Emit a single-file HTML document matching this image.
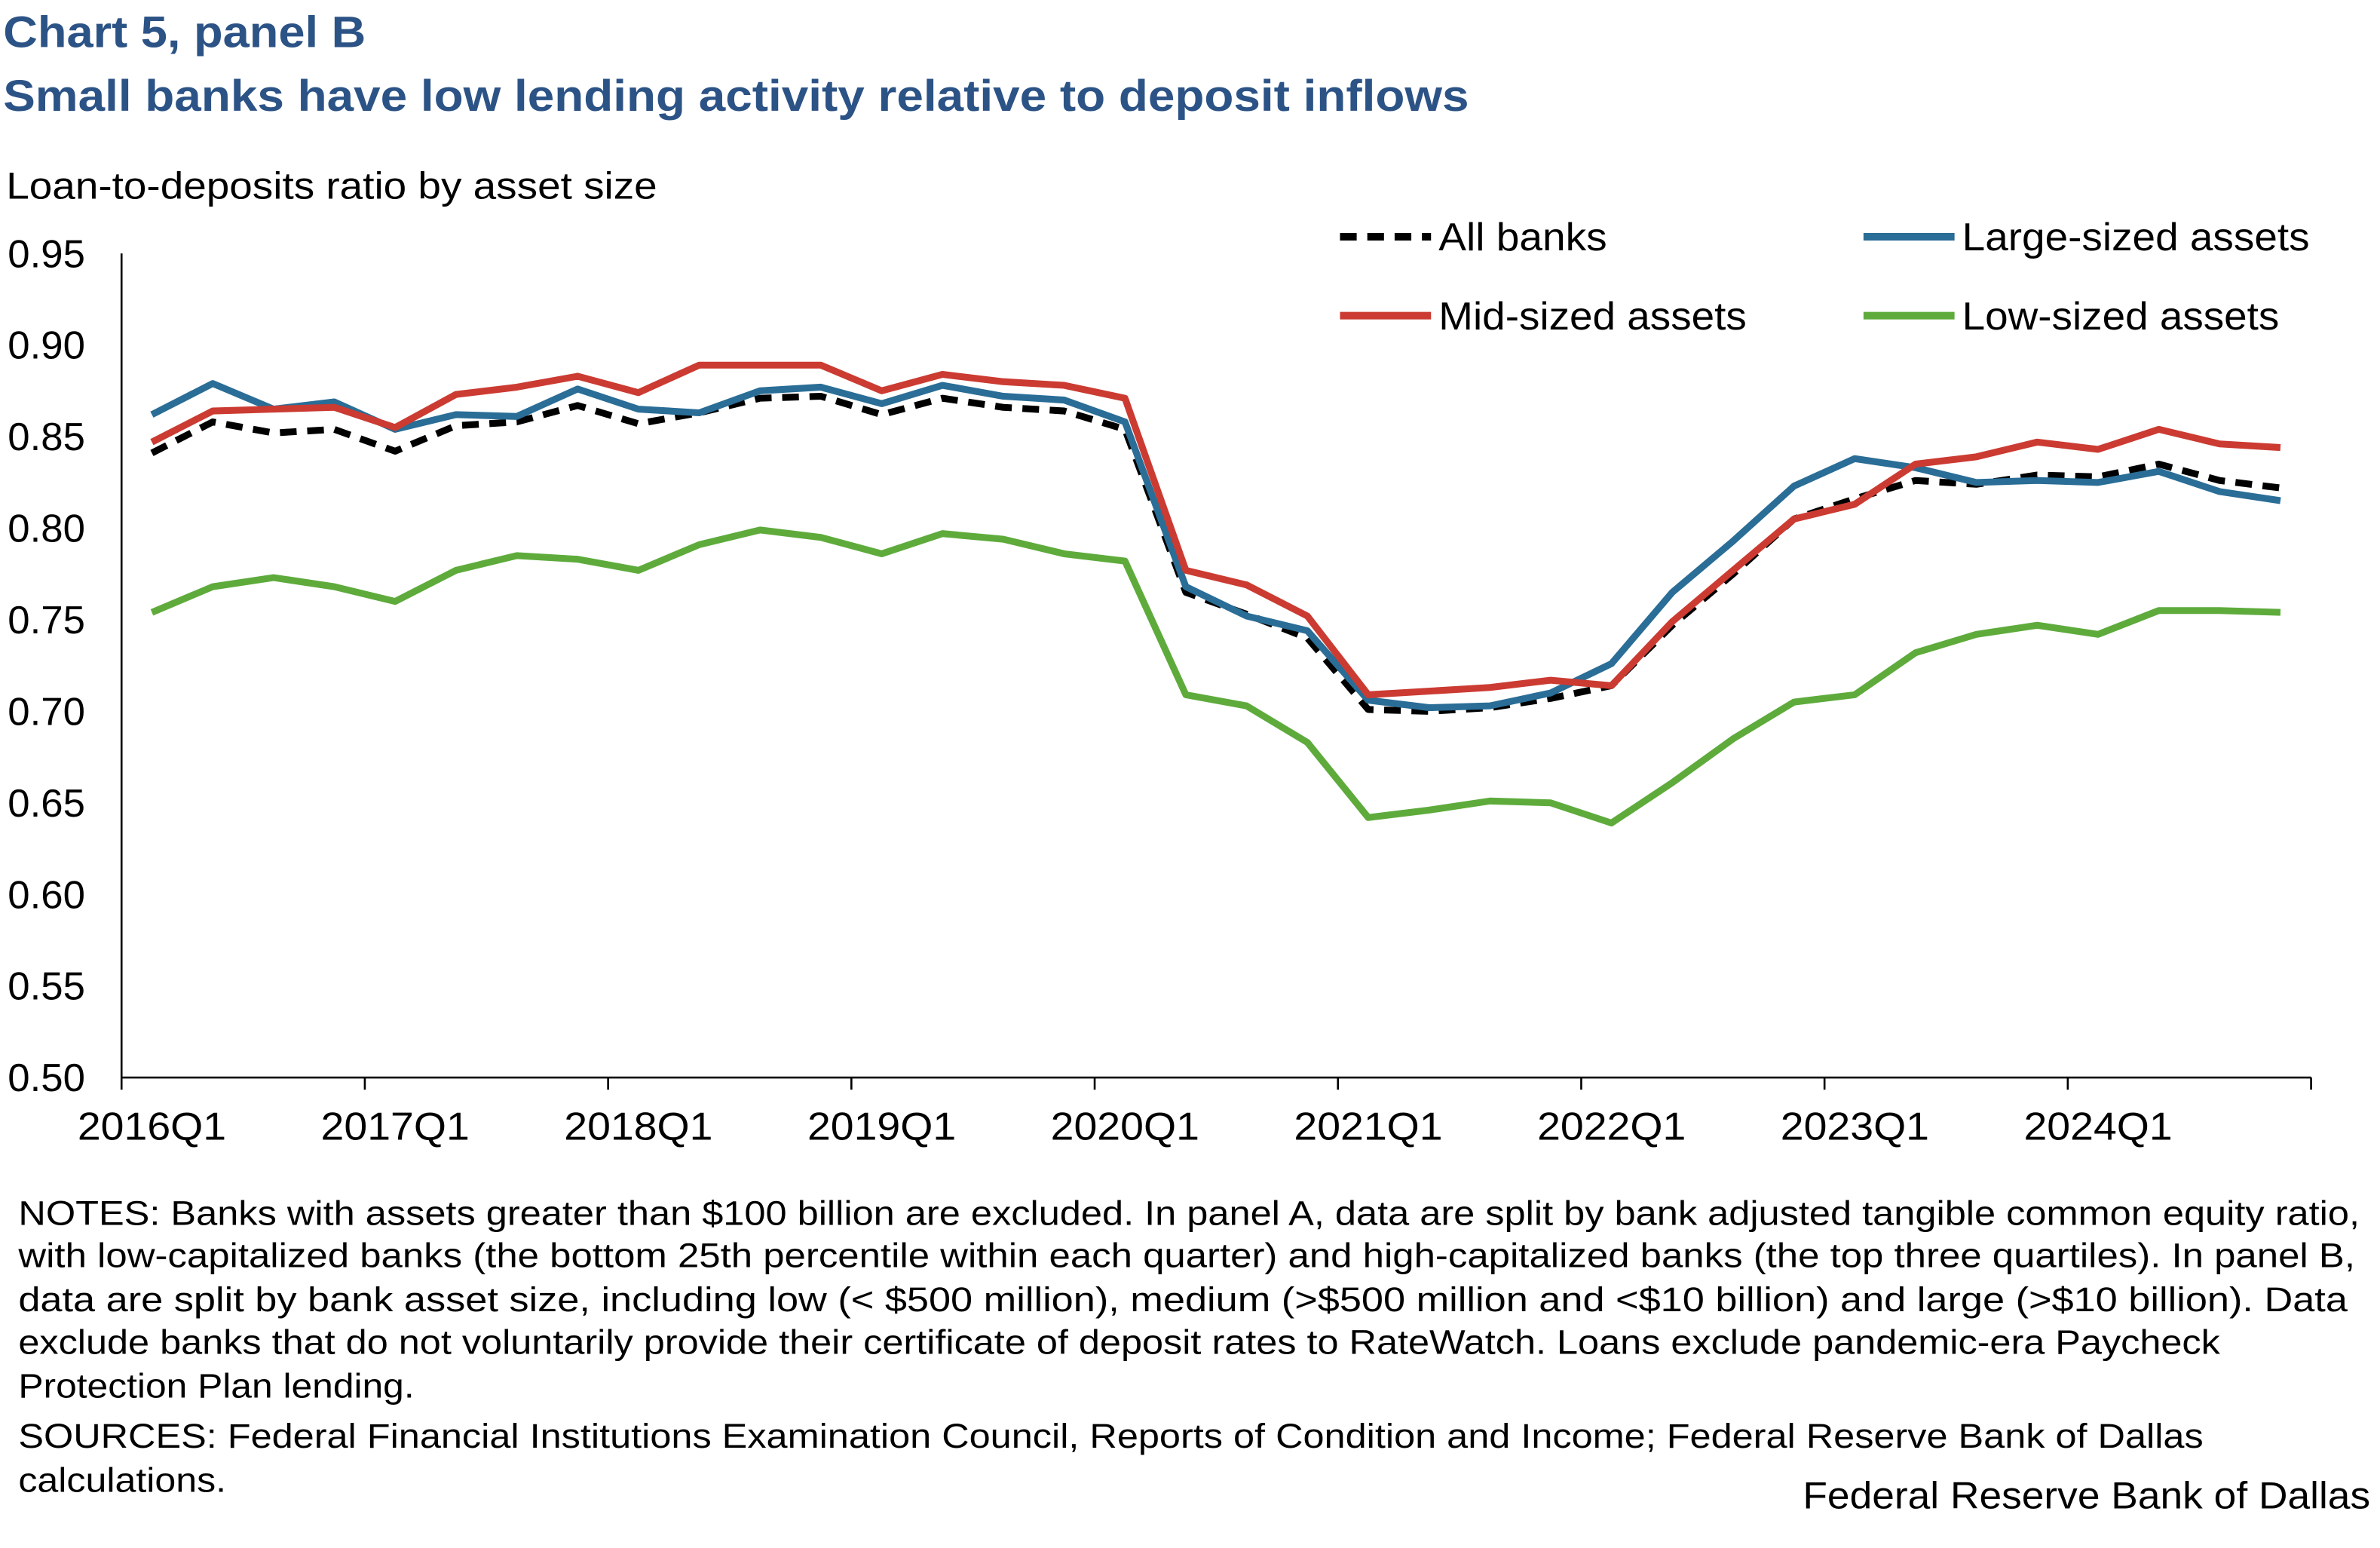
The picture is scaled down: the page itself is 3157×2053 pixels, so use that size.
<!DOCTYPE html>
<html><head><meta charset="utf-8">
<style>
html,body{margin:0;padding:0;background:#fff;}
svg{display:block;font-family:"Liberation Sans",Arial,sans-serif;}
</style></head>
<body>
<svg id="c" width="3157" height="2053" viewBox="0 0 1568.3 1020" xmlns="http://www.w3.org/2000/svg">
<text x="2" y="31" font-size="29" font-weight="bold" fill="#2c5386" textLength="239" lengthAdjust="spacingAndGlyphs">Chart 5, panel B</text>
<text x="2" y="73" font-size="29" font-weight="bold" fill="#2c5386" textLength="966" lengthAdjust="spacingAndGlyphs">Small banks have low lending activity relative to deposit inflows</text>
<text x="4" y="131" font-size="25" fill="#000" textLength="429" lengthAdjust="spacingAndGlyphs">Loan-to-deposits ratio by asset size</text>
<g id="yl" font-size="26" text-anchor="end"></g>
<line x1="80" y1="167" x2="80" y2="710" stroke="#000" stroke-width="1.3"/>
<line x1="80" y1="710" x2="1523" y2="710" stroke="#000" stroke-width="1.3"/>
<g id="xt"></g>
<g id="series"></g>
<g font-size="26">
<line x1="883" y1="156" x2="943" y2="156" stroke="#000" stroke-width="5" stroke-dasharray="11,7"/>
<text x="948" y="165" textLength="111" lengthAdjust="spacingAndGlyphs">All banks</text>
<line x1="1228" y1="156" x2="1288" y2="156" stroke="#2a6d96" stroke-width="5"/>
<text x="1293" y="165" textLength="229" lengthAdjust="spacingAndGlyphs">Large-sized assets</text>
<line x1="883" y1="208" x2="943" y2="208" stroke="#cb3b32" stroke-width="5"/>
<text x="948" y="217" textLength="203" lengthAdjust="spacingAndGlyphs">Mid-sized assets</text>
<line x1="1228" y1="208" x2="1288" y2="208" stroke="#5eab3c" stroke-width="5"/>
<text x="1293" y="217" textLength="209" lengthAdjust="spacingAndGlyphs">Low-sized assets</text>
</g>
<g font-size="22.5" fill="#000">
<text x="12" y="807" textLength="1543" lengthAdjust="spacingAndGlyphs">NOTES: Banks with assets greater than $100 billion are excluded. In panel A, data are split by bank adjusted tangible common equity ratio,</text>
<text x="12" y="835" textLength="1540" lengthAdjust="spacingAndGlyphs">with low-capitalized banks (the bottom 25th percentile within each quarter) and high-capitalized banks (the top three quartiles). In panel B,</text>
<text x="12" y="864" textLength="1535" lengthAdjust="spacingAndGlyphs">data are split by bank asset size, including low (&lt; $500 million), medium (&gt;$500 million and &lt;$10 billion) and large (&gt;$10 billion). Data</text>
<text x="12" y="892" textLength="1451" lengthAdjust="spacingAndGlyphs">exclude banks that do not voluntarily provide their certificate of deposit rates to RateWatch. Loans exclude pandemic-era Paycheck</text>
<text x="12" y="921" textLength="261" lengthAdjust="spacingAndGlyphs">Protection Plan lending.</text>
<text x="12" y="954" textLength="1440" lengthAdjust="spacingAndGlyphs">SOURCES: Federal Financial Institutions Examination Council, Reports of Condition and Income; Federal Reserve Bank of Dallas</text>
<text x="12" y="983" textLength="137" lengthAdjust="spacingAndGlyphs">calculations.</text>
<text x="1188" y="994" font-size="25" textLength="374" lengthAdjust="spacingAndGlyphs">Federal Reserve Bank of Dallas</text>
</g>
</svg>
<script>
var NS="http://www.w3.org/2000/svg";
function el(t,a,p,txt){var e=document.createElementNS(NS,t);for(var k in a)e.setAttribute(k,a[k]);if(txt)e.textContent=txt;p.appendChild(e);return e;}
function Y(v){return 710-(v-0.5)/0.05*60.33;}
var yl=document.getElementById('yl');
for(var i=0;i<=9;i++){var v=0.5+0.05*i;el('text',{x:56,y:Y(v)+9,textLength:51,lengthAdjust:'spacingAndGlyphs'},yl,v.toFixed(2));}
var xt=document.getElementById('xt');
var labs=['2016Q1','2017Q1','2018Q1','2019Q1','2020Q1','2021Q1','2022Q1','2023Q1','2024Q1'];
for(var i=0;i<=9;i++){var x=80+i*160.33;el('line',{x1:x,y1:710,x2:x,y2:718,stroke:'#000','stroke-width':1.3},xt);
 if(i<9)el('text',{x:x+20-49,y:751,'font-size':26,textLength:98,lengthAdjust:'spacingAndGlyphs'},xt,labs[i]);}
var d={
low:[.754,.768,.773,.768,.760,.777,.785,.783,.777,.791,.799,.795,.786,.797,.794,.786,.782,.709,.703,.683,.642,.646,.651,.650,.639,.661,.685,.705,.709,.732,.742,.747,.742,.755,.755,.754],
mid:[.847,.864,.865,.866,.855,.873,.877,.883,.874,.889,.889,.889,.875,.884,.880,.878,.871,.777,.769,.752,.709,.711,.713,.717,.714,.749,.777,.805,.813,.835,.839,.847,.843,.854,.846,.844],
large:[.862,.879,.865,.869,.854,.862,.861,.876,.865,.863,.875,.877,.868,.878,.872,.870,.858,.768,.752,.744,.706,.702,.703,.710,.726,.765,.793,.823,.838,.833,.825,.826,.825,.831,.820,.815],
all:[.841,.858,.852,.854,.842,.856,.858,.867,.857,.863,.871,.872,.862,.871,.866,.864,.854,.765,.753,.740,.701,.700,.702,.707,.714,.747,.775,.805,.816,.826,.824,.829,.828,.835,.826,.822]};
var s=document.getElementById('series');
function pl(arr,col,dash){var p=arr.map(function(v,i){return (100+40.08*i).toFixed(1)+','+Y(v).toFixed(1);}).join(' ');
 var a={points:p,fill:'none',stroke:col,'stroke-width':4.5,'stroke-linejoin':'round'};if(dash)a['stroke-dasharray']=dash;el('polyline',a,s);}
pl(d.low,'#5eab3c');pl(d.all,'#000','11,7');pl(d.large,'#2a6d96');pl(d.mid,'#cb3b32');
</script>
</body></html>
